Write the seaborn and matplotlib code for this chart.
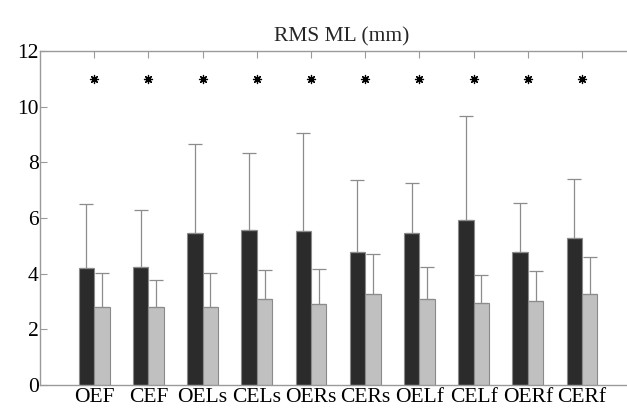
import matplotlib
matplotlib.use("Agg")
import matplotlib.pyplot as plt
import seaborn as sns
import pandas as pd
import numpy as np

categories = ["OEF", "CEF", "OELs", "CELs", "OERs", "CERs", "OELf", "CELf", "OERf", "CERf"]
dark_vals = [4.21, 4.25, 5.46, 5.58, 5.53, 4.77, 5.47, 5.94, 4.77, 5.28]
dark_err_top = [6.49, 6.28, 8.65, 8.34, 9.04, 7.37, 7.25, 9.65, 6.54, 7.39]
light_vals = [2.81, 2.81, 2.79, 3.08, 2.90, 3.27, 3.09, 2.93, 3.03, 3.26]
light_err_top = [4.01, 3.76, 4.01, 4.12, 4.18, 4.71, 4.25, 3.95, 4.08, 4.59]
series = ["A", "B"]
signif_y = 11.0

sns.set_theme(style="white")
plt.rcParams["font.family"] = ["Liberation Serif", "DejaVu Serif"]

df = pd.DataFrame({
    "cond": categories * 2,
    "series": [series[0]] * len(categories) + [series[1]] * len(categories),
    "value": dark_vals + light_vals,
})

fig = plt.figure(figsize=(6.27, 4.12), dpi=100)
ax = fig.add_axes([40 / 627, 1 - 385 / 412, 1 - 40 / 627, (385 - 51) / 412])

sns.barplot(data=df, x="cond", y="value", hue="series", order=categories,
            hue_order=series, palette=["#2b2b2b", "#c0c0c0"], width=0.57,
            edgecolor="#8a8a8a", linewidth=0.8, errorbar=None, legend=False,
            saturation=1, ax=ax)

# error bars (upper only)
n = len(categories)
patches = ax.patches
for i, p in enumerate(patches[: 2 * n]):
    s = i // n
    c = i % n
    val = dark_vals[c] if s == 0 else light_vals[c]
    top = dark_err_top[c] if s == 0 else light_err_top[c]
    xc = p.get_x() + p.get_width() / 2
    ax.errorbar([xc], [val], yerr=[[0], [top - val]], fmt="none",
                ecolor="#8c8c8c", elinewidth=0.9, capsize=5, capthick=0.9, zorder=1)

# significance markers
ax.scatter(np.arange(n), [signif_y] * n, marker=(8, 2, 0), s=34, color="black",
           linewidths=0.9, zorder=3)

ax.set_xlim(-1.0, n - 1 + 0.83)
ax.set_ylim(0, 12)
ax.set_yticks([0, 2, 4, 6, 8, 10, 12])
ax.set_xlabel("")
ax.set_ylabel("")
ax.set_title("RMS ML (mm)", fontsize=15.5, pad=7, x=0.514)

for side in ["left", "top", "bottom"]:
    ax.spines[side].set_visible(True)
    ax.spines[side].set_color("#9a9a9a")
    ax.spines[side].set_linewidth(1.0)
ax.spines["right"].set_visible(False)

ax.tick_params(axis="both", direction="in", length=5, width=0.8, color="#9a9a9a",
               labelsize=15.5, labelcolor="black")
ax.tick_params(axis="x", top=True, bottom=True, pad=2)
ax.tick_params(axis="y", left=True, right=False, pad=1)

fig.savefig("out.png", dpi=100)
